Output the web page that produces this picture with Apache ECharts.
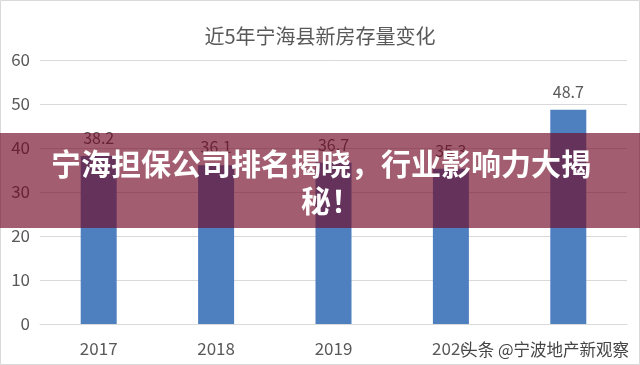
<!DOCTYPE html>
<html><head><meta charset="utf-8">
<script src="https://cdn.jsdelivr.net/npm/echarts@6/dist/echarts.min.js"></script>
<style>html,body{margin:0;padding:0;background:#fff}#c{width:640px;height:365px}</style>
</head><body><div id="c"></div>
<script>
const titleText = '近5年宁海县新房存量变化';
const categories = ['2017', '2018', '2019', '2020', '2021'];
const stockValues = [38.2, 36.1, 36.7, 35.3, 48.7];
const yTicks = [0, 10, 20, 30, 40, 50, 60];
const bannerLines = ['宁海担保公司排名揭晓，行业影响力大揭', '秘！'];
const watermarkText = '头条 @宁波地产新观察';

const font = '"Noto Sans CJK SC", "Noto Sans", sans-serif';
const chart = echarts.init(document.getElementById('c'));
chart.setOption({
  backgroundColor: '#ffffff',
  animation: false,
  title: {
    text: titleText, left: 'center', top: 21,
    textStyle: { fontFamily: font, fontSize: 20, fontWeight: 'normal', color: '#595959' }
  },
  grid: { left: 40, right: 13, top: 60, bottom: 41 },
  xAxis: {
    type: 'category', data: categories,
    axisLine: { lineStyle: { color: '#d9d9d9' } },
    axisTick: { show: false },
    axisLabel: { fontFamily: font, fontSize: 17, color: '#595959', margin: 16 }
  },
  yAxis: {
    type: 'value', min: yTicks[0], max: yTicks[yTicks.length - 1], interval: 10,
    axisLine: { show: false }, axisTick: { show: false },
    splitLine: { lineStyle: { color: '#d9d9d9' } },
    axisLabel: { fontFamily: font, fontSize: 17, color: '#595959', margin: 10 }
  },
  series: [{
    type: 'bar', data: stockValues, barWidth: 36,
    itemStyle: { color: '#4e80c0' },
    label: { show: true, position: 'top', distance: 10, fontFamily: font, fontSize: 16, color: '#595959' }
  }],
  graphic: [
    { type: 'rect', z: 100, shape: { x: 0.5, y: 0.5, width: 639, height: 364 },
      style: { fill: 'none', stroke: '#d9d9d9', lineWidth: 1 } },
    { type: 'rect', z: 200, shape: { x: 0, y: 133, width: 640, height: 95 },
      style: { fill: 'rgba(112,8,35,0.65)' } },
    { type: 'text', z: 210, x: 321, y: 164,
      style: { text: bannerLines[0], fill: '#ffffff', font: 'bold 30px ' + font,
        textAlign: 'center', textVerticalAlign: 'middle',
        shadowColor: 'rgba(0,0,0,0.3)', shadowBlur: 2 } },
    { type: 'text', z: 210, x: 331, y: 201,
      style: { text: bannerLines[1], fill: '#ffffff', font: 'bold 30px ' + font,
        textAlign: 'center', textVerticalAlign: 'middle',
        shadowColor: 'rgba(0,0,0,0.3)', shadowBlur: 2 } },
    { type: 'rect', z: 220, shape: { x: 464, y: 337, width: 169, height: 24 },
      style: { fill: '#ffffff' } },
    { type: 'text', z: 230, x: 629, y: 350,
      style: { text: watermarkText, fill: '#444444', font: '16.5px ' + font,
        textAlign: 'right', textVerticalAlign: 'middle' } }
  ]
});
</script></body></html>
